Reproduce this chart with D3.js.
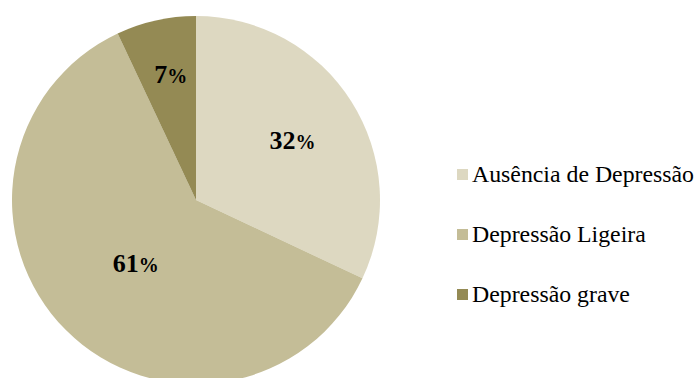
<!DOCTYPE html>
<html>
<head>
<meta charset="utf-8">
<script src="https://cdn.jsdelivr.net/npm/d3@7/dist/d3.min.js"></script>
<style>
  html, body { margin: 0; padding: 0; background: #ffffff; }
  svg { display: block; }
  text { font-family: "Liberation Serif", "DejaVu Serif", "Times New Roman", Times, serif; }
</style>
</head>
<body>
<svg id="chart" width="696" height="378"></svg>
<script>
// Categories and their shares (percent)
const categories = ["Ausência de Depressão", "Depressão Ligeira", "Depressão grave"];
const shares = [32, 61, 7];
const colors = ["#ddd8c1", "#c4bd97", "#948a54"];

const width = 696, height = 378;
const cx = 196, cy = 200, radius = 184;

const svg = d3.select("#chart");

const rows = categories.map((c, i) => ({ name: c, value: shares[i], color: colors[i] }));

const pie = d3.pie().value(d => d.value).sort(null);
const arc = d3.arc().innerRadius(0).outerRadius(radius);
const arcs = pie(rows);

const g = svg.append("g").attr("transform", `translate(${cx},${cy})`);

g.selectAll("path.slice")
  .data(arcs)
  .join("path")
  .attr("class", "slice")
  .attr("d", arc)
  .attr("fill", d => d.data.color);

// Labels: smaller slices are pushed further out toward the rim
const labels = g.selectAll("text.pct")
  .data(arcs)
  .join("text")
  .attr("class", "pct")
  .attr("transform", d => {
    const share = d.data.value / 100;
    const r = radius * (0.73 - 0.4 * share);
    const la = d3.arc().innerRadius(r).outerRadius(r);
    const [x, y] = la.centroid(d);
    return `translate(${x + 3},${y})`;
  })
  .attr("text-anchor", "middle")
  .attr("dy", "0.55em")
  .attr("font-weight", "bold")
  .attr("fill", "#000");

labels.append("tspan").attr("font-size", 26).text(d => d.data.value);
labels.append("tspan").attr("font-size", 20).text("%");

// Legend
const legend = svg.append("g").attr("transform", "translate(457,174)");
const item = legend.selectAll("g.item")
  .data(rows)
  .join("g")
  .attr("class", "item")
  .attr("transform", (d, i) => `translate(0,${i * 60})`);

item.append("rect")
  .attr("x", 0).attr("y", -5)
  .attr("width", 11).attr("height", 11)
  .attr("fill", d => d.color);

item.append("text")
  .attr("x", 15).attr("y", 0)
  .attr("dy", "0.35em")
  .attr("font-size", 23.8)
  .attr("fill", "#000")
  .text(d => d.name);
</script>
</body>
</html>
